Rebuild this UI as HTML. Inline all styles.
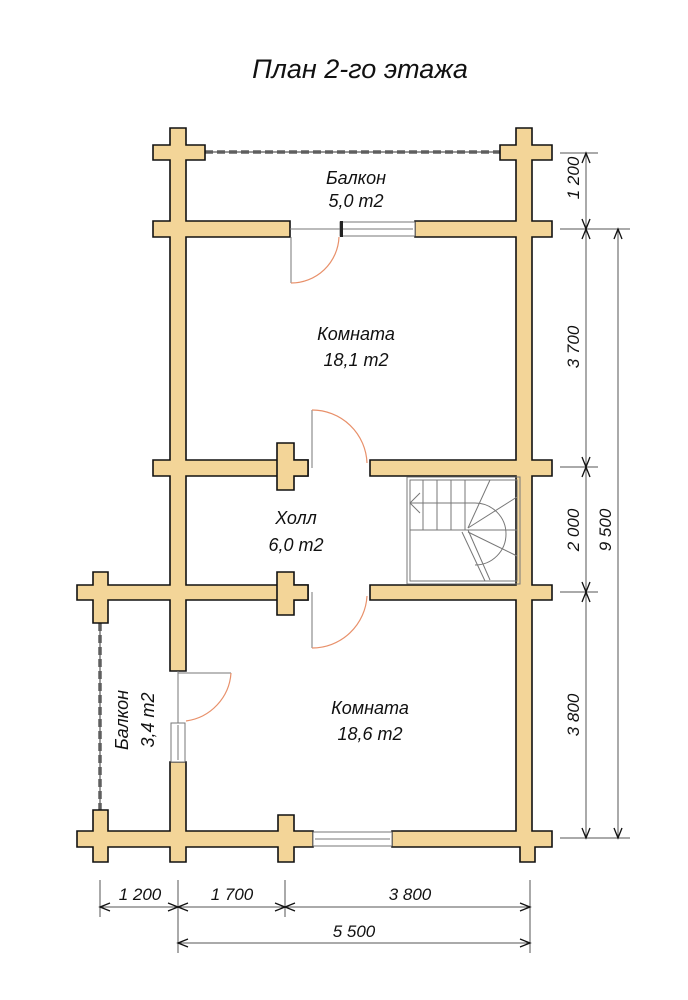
<!DOCTYPE html>
<html><head><meta charset="utf-8"><style>
html,body{margin:0;padding:0;background:#fff;}
svg{display:block;}
text{font-family:"Liberation Sans",sans-serif;font-style:italic;fill:#111;}
.w{fill:#F3D598;stroke:#111;stroke-width:1.6;}
.g{stroke:#777;stroke-width:1;fill:none;}
.d{stroke:#E8906A;stroke-width:1.2;fill:none;}
.dim{stroke:#555;stroke-width:1;fill:none;}
</style></head><body>
<svg width="688" height="1000" viewBox="0 0 688 1000" xmlns="http://www.w3.org/2000/svg">
<text x="360" y="78" font-size="27" text-anchor="middle">План 2-го этажа</text>

<!-- railings -->
<g stroke="#888" stroke-width="4" stroke-dasharray="8,4">
<line x1="205" y1="152" x2="500" y2="152"/>
<line x1="100" y1="623" x2="100" y2="810"/>
</g>
<line x1="205" y1="152" x2="500" y2="152" stroke="#333" stroke-width="1"/>
<line x1="100" y1="623" x2="100" y2="810" stroke="#333" stroke-width="1"/>

<!-- walls -->
<g class="w">
<path d="M170 128 H186 V145 H205 V160 H186 V221 H290 V237 H186 V460 H308 V476 H186 V585 H308 V600 H186 V671 H170 V600 H108 V623 H93 V600 H77 V585 H93 V572 H108 V585 H170 V476 H153 V460 H170 V237 H153 V221 H170 V160 H153 V145 H170 Z"/>
<path d="M516 128 H532 V145 H552 V160 H532 V221 H552 V237 H532 V460 H552 V476 H532 V585 H552 V600 H532 V831 H552 V847 H535 V862 H520 V847 H392 V831 H516 V600 H370 V585 H516 V476 H370 V460 H516 V237 H415 V221 H516 V160 H500 V145 H516 Z"/>
<path d="M277 443 H294 V460 H308 V476 H294 V490 H277 Z"/>
<path d="M277 572 H294 V585 H308 V600 H294 V615 H277 Z"/>
<path d="M170 762 H186 V831 H278 V815 H294 V831 H313 V847 H294 V862 H278 V847 H186 V862 H170 V847 H108 V862 H93 V847 H77 V831 H93 V810 H108 V831 H170 Z"/>
</g>

<!-- windows -->
<g fill="#fff" stroke="#777" stroke-width="1">
<rect x="340" y="222" width="75" height="14"/><line x1="342" y1="229" x2="413" y2="229"/>
<rect x="313" y="832" width="79" height="14"/><line x1="315" y1="839" x2="390" y2="839"/>
<rect x="171" y="723" width="14" height="39"/><line x1="178" y1="725" x2="178" y2="760"/>
</g>
<rect x="340" y="221" width="3" height="16" fill="#222"/>

<!-- doors -->
<line class="g" x1="290" y1="229" x2="340" y2="229"/>
<line class="g" x1="291" y1="237" x2="291" y2="283"/>
<path class="d" d="M291 283 A48 48 0 0 0 339 237"/>
<line class="g" x1="312" y1="410" x2="312" y2="468"/>
<path class="d" d="M312 410 A55 55 0 0 1 367 463"/>
<line class="g" x1="312" y1="592" x2="312" y2="648"/>
<path class="d" d="M312 648 A55 55 0 0 0 367 596"/>
<line class="g" x1="178" y1="671" x2="178" y2="723"/>
<line class="g" x1="178" y1="673" x2="231" y2="673"/>
<path class="d" d="M231 673 A52 52 0 0 1 186 721"/>

<!-- stair -->
<g class="g">
<rect x="407" y="477" width="113" height="107"/>
<rect x="410" y="480" width="107" height="101"/>
<line x1="410" y1="530" x2="468" y2="530"/>
<line x1="410" y1="503" x2="475" y2="503"/>
<line x1="423" y1="480" x2="423" y2="530"/><line x1="437" y1="480" x2="437" y2="530"/><line x1="451" y1="480" x2="451" y2="530"/><line x1="465" y1="480" x2="465" y2="530"/>
<path d="M475 503 A30 30 0 0 1 475 565"/>
<line x1="468" y1="530" x2="490" y2="580"/><line x1="462" y1="532" x2="485" y2="581"/>
<line x1="468" y1="528" x2="490" y2="480"/><line x1="468" y1="528" x2="517" y2="497"/><line x1="468" y1="530" x2="517" y2="530"/><line x1="468" y1="532" x2="517" y2="556"/>
<path d="M420 493 L410 503 L420 513"/>
</g>

<!-- labels -->
<g font-size="18" text-anchor="middle">
<text x="356" y="184">Балкон</text><text x="356" y="207">5,0 m2</text>
<text x="356" y="340">Комната</text><text x="356" y="366">18,1 m2</text>
<text x="296" y="524">Холл</text><text x="296" y="551">6,0 m2</text>
<text x="370" y="714">Комната</text><text x="370" y="740">18,6 m2</text>
<text transform="translate(128,720) rotate(-90)">Балкон</text>
<text transform="translate(154,720) rotate(-90)">3,4 m2</text>
</g>

<!-- dims -->
<g class="dim">
<line x1="560" y1="153" x2="598" y2="153"/>
<line x1="560" y1="229" x2="630" y2="229"/>
<line x1="560" y1="467" x2="598" y2="467"/>
<line x1="560" y1="592" x2="598" y2="592"/>
<line x1="560" y1="838" x2="630" y2="838"/>
<line x1="586" y1="153" x2="586" y2="838"/>
<line x1="618" y1="229" x2="618" y2="838"/>
<line x1="100" y1="880" x2="100" y2="917"/>
<line x1="178" y1="880" x2="178" y2="953"/>
<line x1="285" y1="880" x2="285" y2="917"/>
<line x1="530" y1="880" x2="530" y2="953"/>
<line x1="100" y1="907" x2="530" y2="907"/>
<line x1="178" y1="943" x2="530" y2="943"/>
</g>
<g stroke="#111" stroke-width="1.3" fill="none">
<path d="M582 163 L586 153 L590 163"/><path d="M582 219 L586 229 L590 219"/><path d="M582 239 L586 229 L590 239"/>
<path d="M582 457 L586 467 L590 457"/><path d="M582 477 L586 467 L590 477"/>
<path d="M582 582 L586 592 L590 582"/><path d="M582 602 L586 592 L590 602"/>
<path d="M582 828 L586 838 L590 828"/>
<path d="M614 239 L618 229 L622 239"/><path d="M614 828 L618 838 L622 828"/>
<path d="M110 903 L100 907 L110 911"/><path d="M168 903 L178 907 L168 911"/><path d="M188 903 L178 907 L188 911"/>
<path d="M275 903 L285 907 L275 911"/><path d="M295 903 L285 907 L295 911"/><path d="M520 903 L530 907 L520 911"/>
<path d="M188 939 L178 943 L188 947"/><path d="M520 939 L530 943 L520 947"/>
</g>
<g font-size="17" text-anchor="middle">
<text transform="translate(579,178) rotate(-90)">1 200</text>
<text transform="translate(579,347) rotate(-90)">3 700</text>
<text transform="translate(579,530) rotate(-90)">2 000</text>
<text transform="translate(579,715) rotate(-90)">3 800</text>
<text transform="translate(611,530) rotate(-90)">9 500</text>
<text x="140" y="900">1 200</text>
<text x="232" y="900">1 700</text>
<text x="410" y="900">3 800</text>
<text x="354" y="937">5 500</text>
</g>
</svg>
</body></html>
